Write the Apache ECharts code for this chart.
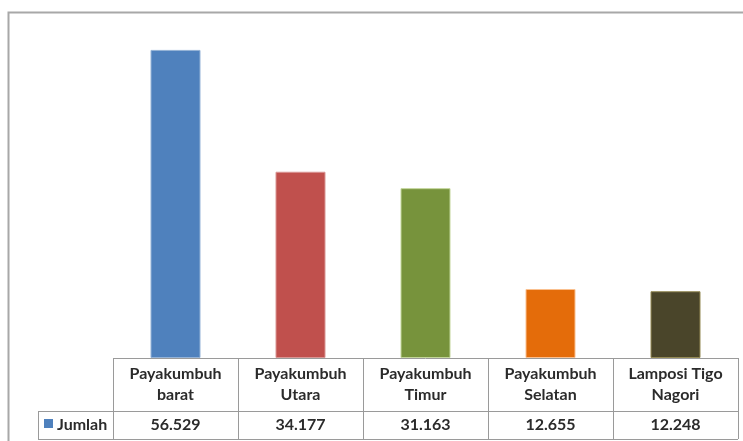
<!DOCTYPE html>
<html><head><meta charset="utf-8">
<script src="https://cdn.jsdelivr.net/npm/echarts@6/dist/echarts.min.js"></script>
<style>html,body{margin:0;padding:0;background:#fff}#c{width:743px;height:441px}</style>
</head><body><div id="c"></div>
<script>
var categories = ['Payakumbuh\nbarat', 'Payakumbuh\nUtara', 'Payakumbuh\nTimur', 'Payakumbuh\nSelatan', 'Lamposi Tigo\nNagori'];
var values = [56529, 34177, 31163, 12655, 12248];
var seriesName = 'Jumlah';
var colors = ['#4F81BD', '#C0504D', '#77933C', '#E46C0A', '#4A452A'];
var borderColors = ['#95B3D7', '#D99694', '#C3D69B', '#FAC090', '#948A54'];

function fmt(v) { return String(v).replace(/\B(?=(\d{3})+(?!\d))/g, '.'); }

var chart = echarts.init(document.getElementById('c'), null, {renderer: 'canvas'});
var FONT = 'Lato';
var TXT = '#2b2b2b';
chart.setOption({
  animation: false,
  grid: {left: 113, right: 5, top: 31, bottom: 83},
  xAxis: {type: 'category', data: categories, axisLine: {show: false}, axisTick: {show: false}, axisLabel: {show: false}, splitLine: {show: false}},
  yAxis: {type: 'value', min: 0, max: 60000, show: false, splitLine: {show: false}},
  series: [{
    type: 'bar', name: seriesName, barWidth: '40%',
    data: values.map(function (v, i) { return {value: v, itemStyle: {color: colors[i], borderColor: borderColors[i], borderWidth: 1}}; })
  }]
});

var g = [];
var y0 = chart.convertToPixel({yAxisIndex: 0}, 0);
var x0 = chart.convertToPixel({xAxisIndex: 0}, categories[0]);
var x1 = chart.convertToPixel({xAxisIndex: 0}, categories[1]);
var cw = x1 - x0;
var left = x0 - cw / 2;
var right = left + cw * categories.length;
var h1 = 53, h2 = 28;
var legLeft = left - 75;
var lineStyle = {stroke: '#9a9a9a', lineWidth: 1};
// outer border
g.push({type: 'rect', shape: {x: 8.5, y: 12.5, width: 760, height: 460}, style: {fill: null, stroke: '#a8a8a8', lineWidth: 2}, silent: true});
// horizontal lines
g.push({type: 'line', shape: {x1: left, y1: y0 + 0.5, x2: right, y2: y0 + 0.5}, style: lineStyle});
g.push({type: 'line', shape: {x1: legLeft, y1: y0 + h1 + 0.5, x2: right, y2: y0 + h1 + 0.5}, style: lineStyle});
g.push({type: 'line', shape: {x1: legLeft, y1: y0 + h1 + h2 + 0.5, x2: right, y2: y0 + h1 + h2 + 0.5}, style: lineStyle});
// vertical lines
g.push({type: 'line', shape: {x1: legLeft + 0.5, y1: y0 + h1, x2: legLeft + 0.5, y2: y0 + h1 + h2}, style: lineStyle});
for (var i = 0; i <= categories.length; i++) {
  var xx = Math.round(left + cw * i) + 0.5;
  g.push({type: 'line', shape: {x1: xx, y1: y0, x2: xx, y2: y0 + h1 + h2}, style: lineStyle});
}
categories.forEach(function (c, i) {
  var cx = chart.convertToPixel({xAxisIndex: 0}, c);
  g.push({type: 'text', x: cx, y: y0 + h1 / 2, style: {text: c, fill: TXT, font: 'bold 16px ' + FONT, align: 'center', verticalAlign: 'middle', lineHeight: 21}});
  g.push({type: 'text', x: cx, y: y0 + h1 + h2 / 2, style: {text: fmt(values[i]), fill: TXT, font: 'bold 16px ' + FONT, align: 'center', verticalAlign: 'middle'}});
});
// legend key
g.push({type: 'rect', shape: {x: legLeft + 6, y: y0 + h1 + 8, width: 9, height: 9}, style: {fill: colors[0]}});
g.push({type: 'text', x: legLeft + 19, y: y0 + h1 + h2 / 2, style: {text: seriesName, fill: TXT, font: 'bold 16px ' + FONT, align: 'left', verticalAlign: 'middle'}});
chart.setOption({graphic: g});
</script></body></html>
